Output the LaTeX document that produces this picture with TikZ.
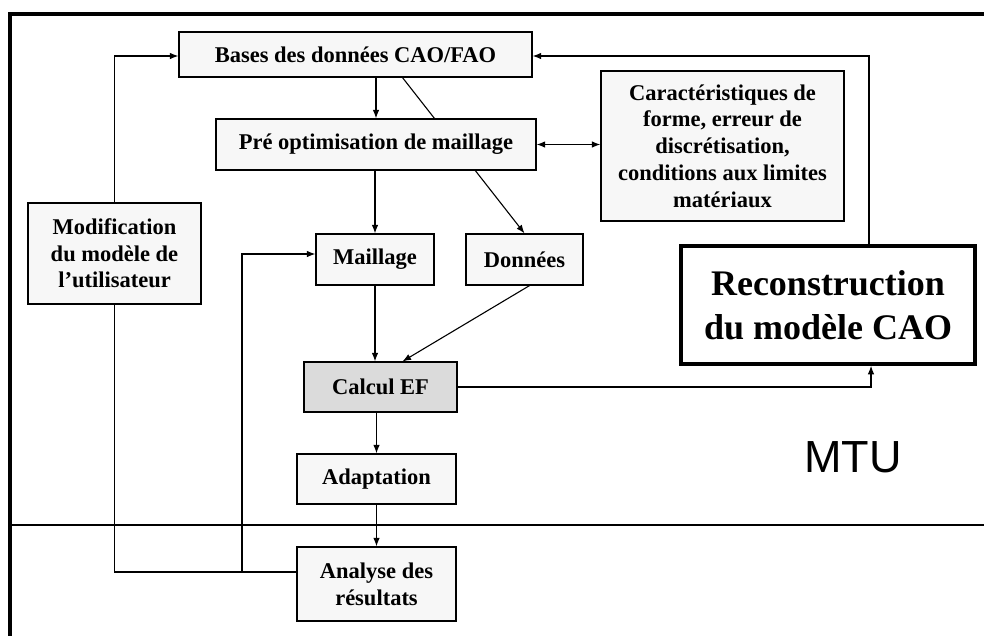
\documentclass[tikz,border=0pt]{standalone}
\usepackage{fontspec}
\setmainfont{Liberation Serif}
\newfontfamily\mtufont{Liberation Sans}
\usetikzlibrary{arrows.meta,backgrounds}

\begin{document}
\begin{tikzpicture}[x=1pt,y=-1pt,>={Latex[length=8.5pt,width=6.5pt]},
    every node/.style={inner sep=0pt},
    bloc/.style={draw,line width=1.2pt,fill=gray!6,align=center,
      font=\fontsize{22.5}{26.7}\selectfont\bfseries},
    fleche/.style={->,line width=1.1pt}]
  \useasboundingbox (0,0) rectangle (984,635);
  % cadre
  \draw[line width=4pt] (10,645) -- (10,14) -- (995,14);
  \draw[line width=2pt] (10,525) -- (995,525);
  % blocs
  \node[bloc,minimum width=353pt,minimum height=45pt] (bases) at (355.5,54.5) {Bases des données CAO/FAO};
  \node[bloc,minimum width=320pt,minimum height=51pt] (pre) at (376,144.5) {Pré optimisation de maillage};
  \node[bloc,minimum width=243pt,minimum height=150pt] (carac) at (722.5,146)
    {Caractéristiques de\\forme, erreur de\\discrétisation,\\conditions aux limites\\matériaux};
  \node[bloc,minimum width=173pt,minimum height=101pt] (modif) at (114.5,253.5)
    {Modification\\du modèle de\\l’utilisateur};
  \node[bloc,minimum width=118pt,minimum height=51pt] (maillage) at (375,259.5) {Maillage};
  \node[bloc,minimum width=117pt,minimum height=51pt] (donnees) at (524.5,259.5) {Données};
  \node[bloc,fill=gray!28,minimum width=153pt,minimum height=50pt] (calcul) at (380.5,387) {Calcul EF};
  \node[bloc,minimum width=159pt,minimum height=50pt] (adapt) at (376.5,479) {Adaptation};
  \node[bloc,minimum width=159pt,minimum height=74pt] (analyse) at (376.5,584) {Analyse des\\résultats};
  \node[bloc,fill=white,line width=3.5pt,minimum width=294pt,minimum height=118pt,
    font=\fontsize{36}{44}\selectfont\bfseries] (recon) at (828,305) {Reconstruction\\du modèle CAO};
  \node[font=\mtufont\fontsize{45}{50}\selectfont] (mtu) at (853,457) {MTU};
  % liaisons
  \begin{scope}[on background layer]
    \draw[fleche] ([xshift=47pt]bases.south) -- (donnees.north);
  \end{scope}
  \draw[fleche] (pre.north |- bases.south) -- (pre.north);
  \draw[fleche] (maillage.north |- pre.south) -- (maillage.north);
  \draw[fleche] (maillage.south) -- (maillage.south |- calcul.north);
  \draw[fleche] ([xshift=5pt]donnees.south) -- ([xshift=22pt]calcul.north);
  \draw[fleche] (adapt.north |- calcul.south) -- (adapt.north);
  \draw[fleche] (adapt) -- (analyse);
  \draw[fleche,<->] (pre.east) -- (pre.east -| carac.west);
  \draw[fleche] (calcul.east) -| ([xshift=43pt]recon.south);
  \draw[fleche] ([xshift=41pt]recon.north) |- ([yshift=-1.5pt]bases.east);
  \coordinate (j) at (242,572);
  \draw[line width=1.1pt] ([yshift=12pt]analyse.west) -| (modif.south);
  \draw[fleche] (modif.north) |- ([yshift=-1.5pt]bases.west);
  \draw[fleche] (j) |- ([yshift=5.5pt]maillage.west);
\end{tikzpicture}
\end{document}
